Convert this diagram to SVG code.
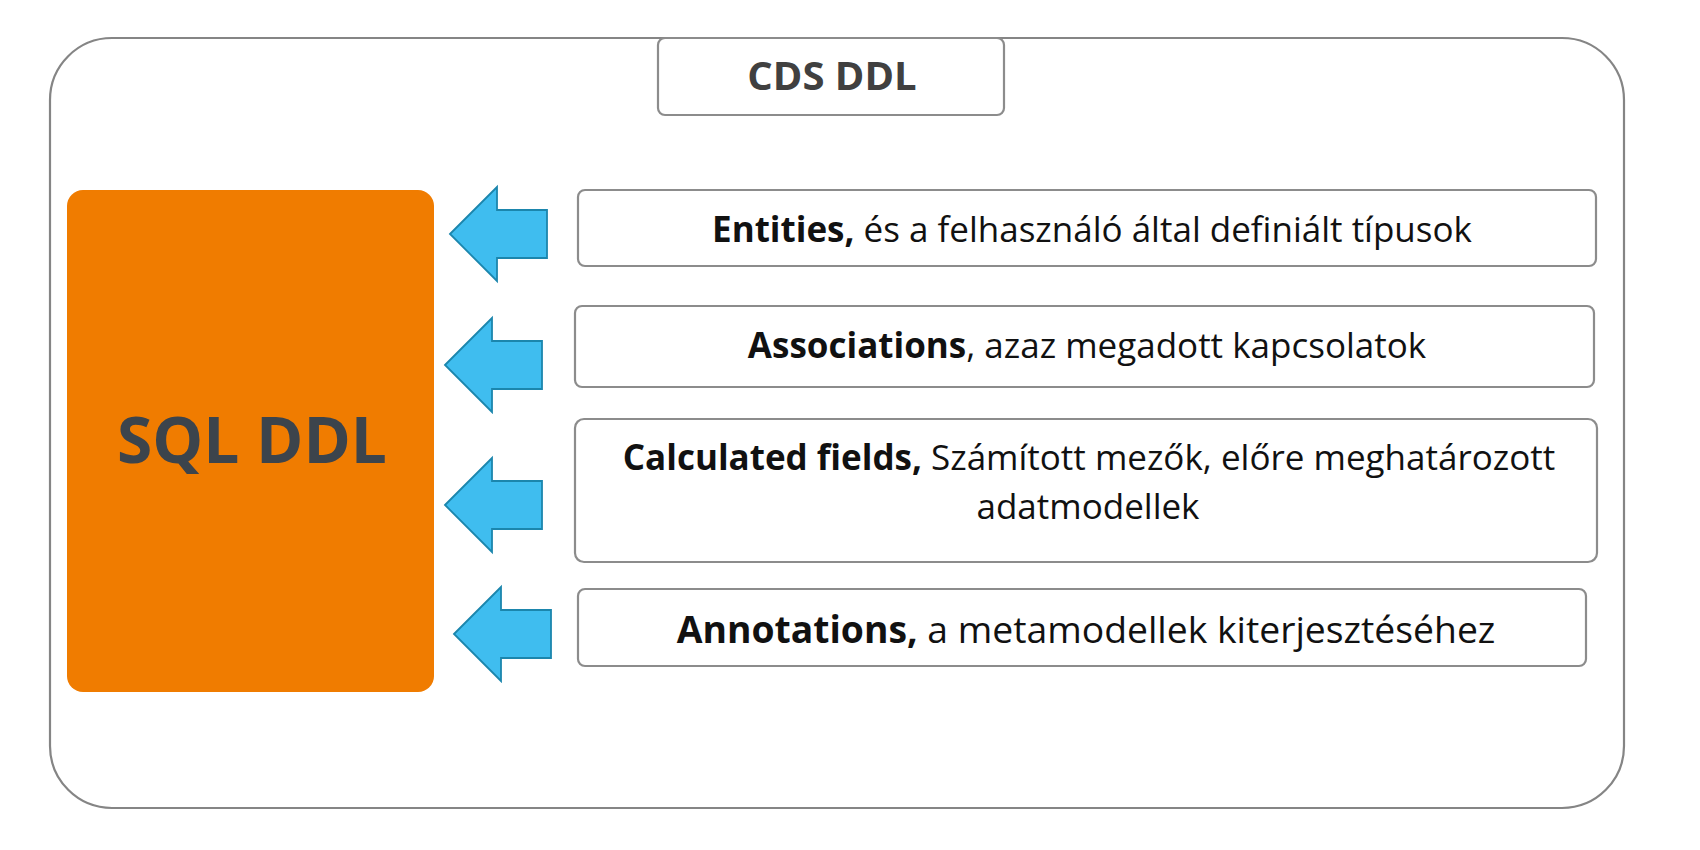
<svg xmlns="http://www.w3.org/2000/svg" xmlns:xlink="http://www.w3.org/1999/xlink" width="1700" height="850" viewBox="0 0 1700 850">
<style>
.box{fill:#fff;stroke:#8c8c8c;stroke-width:2.2}
.lbl{font-family:"Open Sans","Noto Sans",sans-serif;font-size:35px;fill:#111;text-anchor:middle}
.big{font-size:37.3px}
.b{font-weight:bold}
.head{font-family:"Open Sans","Noto Sans",sans-serif;font-weight:bold;text-anchor:middle}
.arrow{fill:#3fbdef;stroke:#1b86ad;stroke-width:1.8;stroke-linejoin:miter}
</style>
<defs>
<polygon id="arr" points="0,0 47,-47 47,-24 97,-24 97,24 47,24 47,47"/>
</defs>
<rect width="1700" height="850" fill="#fff"/>
<g id="frame">
<rect x="50" y="38" width="1574" height="770" rx="62" ry="62" fill="#fff" stroke="#858585" stroke-width="2.2"/>
</g>
<g id="cds">
<rect class="box" x="658" y="38" width="346" height="77" rx="7"/>
<text class="head" x="832" y="90" font-size="40" fill="#404040">CDS DDL</text>
</g>
<g id="sql">
<rect x="67" y="190" width="367" height="502" rx="16" fill="#f07c00"/>
<text class="head" x="252" y="463" font-size="64" fill="#3c444c">SQL DDL</text>
</g>
<g id="connectors">
<use xlink:href="#arr" class="arrow" transform="translate(450,234)"/>
<use xlink:href="#arr" class="arrow" transform="translate(445,365)"/>
<use xlink:href="#arr" class="arrow" transform="translate(445,505)"/>
<use xlink:href="#arr" class="arrow" transform="translate(454,634)"/>
</g>
<g id="entities">
<rect class="box" x="578" y="190" width="1018" height="76" rx="7"/>
<text class="lbl" x="1092" y="242"><tspan class="b">Entities,</tspan> és a felhasználó által definiált típusok</text>
</g>
<g id="associations">
<rect class="box" x="575" y="306" width="1019" height="81" rx="7"/>
<text class="lbl" x="1087" y="358"><tspan class="b">Associations</tspan>, azaz megadott kapcsolatok</text>
</g>
<g id="calculated">
<rect class="box" x="575" y="419" width="1022" height="143" rx="9"/>
<text class="lbl" x="1089" y="470"><tspan class="b">Calculated fields,</tspan> Számított mezők, előre meghatározott</text>
<text class="lbl" x="1088" y="519">adatmodellek</text>
</g>
<g id="annotations">
<rect class="box" x="578" y="589" width="1008" height="77" rx="7"/>
<text class="lbl big" x="1086" y="643"><tspan class="b">Annotations,</tspan> a metamodellek kiterjesztéséhez</text>
</g>
</svg>
